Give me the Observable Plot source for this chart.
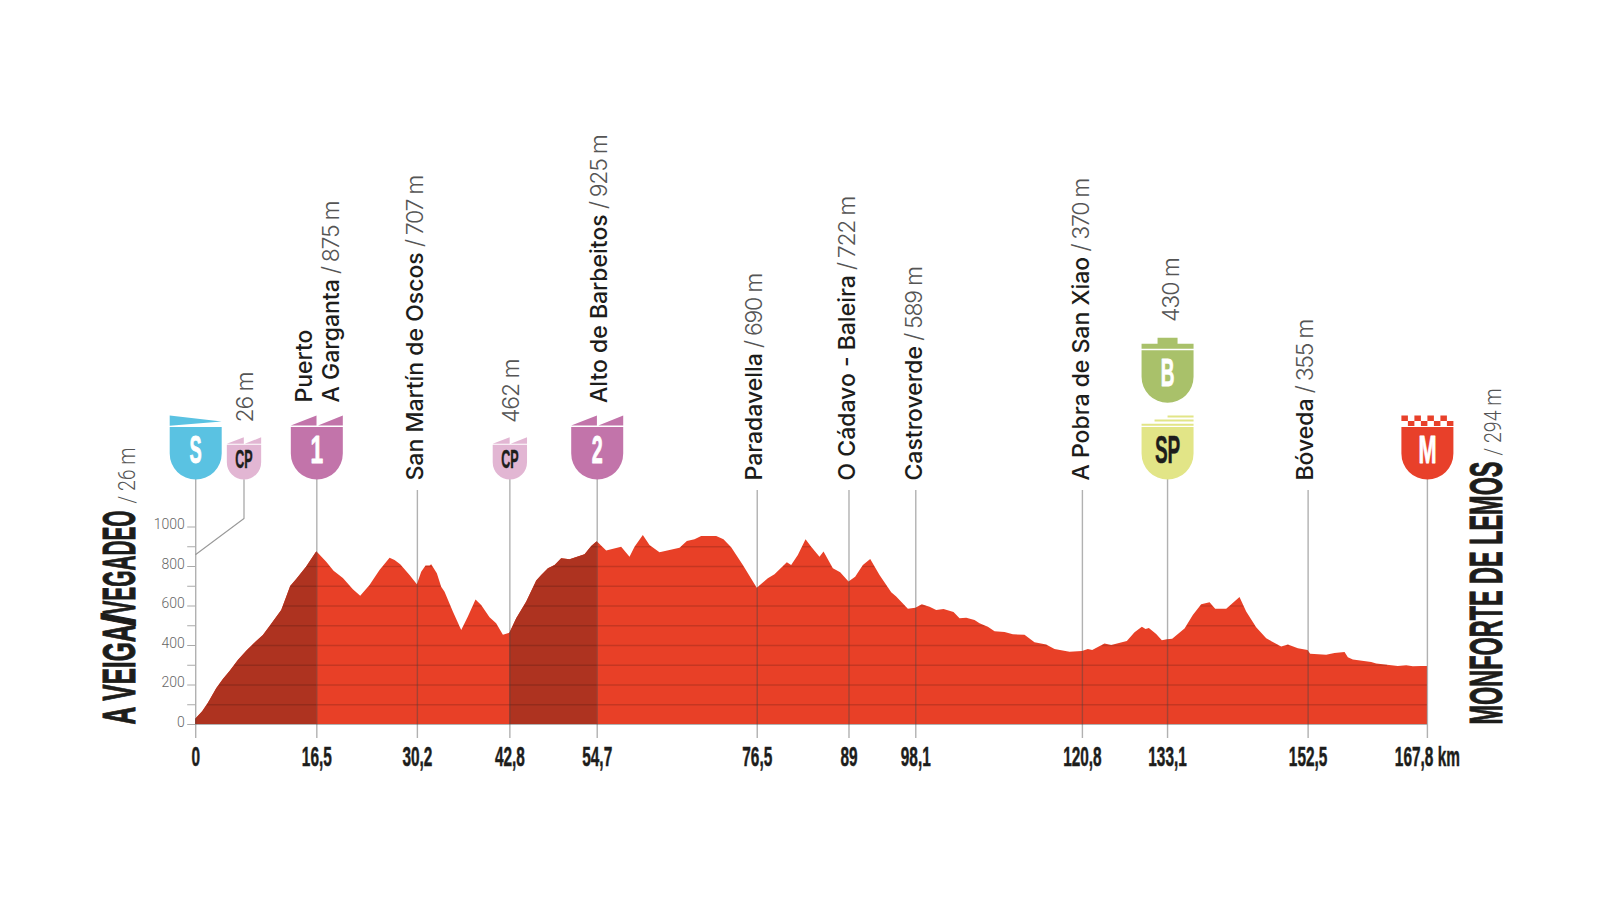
<!DOCTYPE html>
<html><head><meta charset="utf-8">
<script src="https://cdn.jsdelivr.net/npm/d3@7"></script>
<script src="https://cdn.jsdelivr.net/npm/@observablehq/plot@0.6"></script>
<style>html,body{margin:0;padding:0;background:#fff}svg{display:block;overflow:visible}</style>
</head><body><div id="chart"></div>
<script>
// Elevation profile
const profileKm = [0,.95,1.73,2.86,3.77,4.68,5.81,6.95,7.95,9.22,10.13,11.72,12.31,12.94,13.76,15.12,16.5,17.85,18.85,20.12,21.48,22.48,23.75,25.11,26.48,27.16,27.93,29.2,30.2,30.79,31.38,31.93,32.15,32.92,33.51,33.97,35.1,36.24,37.15,38.19,38.96,40.1,41.0,41.92,42.8,43.73,45.1,46.46,47.14,48.05,48.96,49.86,51.0,53.04,53.95,54.7,55.99,58.03,59.17,59.85,60.98,61.89,63.25,65.98,66.98,68.02,68.93,70.98,71.97,73.02,74.61,76.5,78.01,78.92,80.6,81.19,82.1,83.15,83.92,85.05,85.6,86.87,87.87,89,89.91,90.96,91.96,93.23,94.82,95.5,97.09,98.1,98.99,100.04,100.95,101.95,103.31,104.13,105.04,106.17,106.85,107.99,108.9,110.26,111.39,112.98,114.34,115.93,117.07,119.11,120.8,121.61,122.2,123.88,124.79,126.92,127.97,128.97,129.47,129.92,130.92,131.69,132.37,133.1,134.78,135.91,137.05,138.19,138.96,140.46,142.27,143.18,144.54,145.91,147.95,148.86,150.22,151.54,151.9,154.08,155.21,156.58,157.03,157.71,160.21,160.89,163.84,164.98,165.89,167.02,167.8];
const profileM = [26,64,108,181,228,268,324,371,408,451,496,577,636,699,734,797,875,822,776,739,682,650,704,780,842,830,809,755,707,771,802,803,809,763,695,670,569,476,544,631,603,540,510,452,462,535,620,726,755,788,805,839,834,859,901,925,878,898,847,898,957,906,869,893,927,935,952,952,935,895,805,690,738,758,819,805,856,935,898,847,873,788,768,722,746,805,836,755,667,645,584,589,606,594,577,582,567,535,538,527,510,493,469,466,454,452,414,403,380,366,370,380,375,407,400,420,464,493,481,486,456,424,429,432,483,552,606,616,584,584,643,569,490,434,392,402,383,375,356,351,360,365,338,326,314,306,294,297,292,294,294];
// Climbs shaded darker
const climbs = [[0,16.5],[42.8,54.7]];
// Axis
const tickKm = [0,16.5,30.2,42.8,54.7,76.5,89,98.1,120.8,132.4,151.55,167.8];
const tickLabels = ["0","16,5","30,2","42,8","54,7","76,5","89","98,1","120,8","133,1","152,5","167,8 km"];
const elevationTicks = [0,100,200,300,400,500,600,700,800,900,1000];
// Places
const placeKm = [6.58,16.5,16.5,30.2,42.8,54.7,76.5,89,98.1,120.8,132.4,151.55];
const placeText = ["26 m","Puerto","A Garganta / 875 m","San Martín de Oscos / 707 m","462 m","Alto de Barbeitos / 925 m","Paradavella / 690 m","O Cádavo - Baleira / 722 m","Castroverde / 589 m","A Pobra de San Xiao / 370 m","430 m","Bóveda / 355 m"];
const startName = "A VEIGA/VEGADEO", startAlt = "/ 26 m", finishName = "MONFORTE DE LEMOS", finishAlt = "/ 294 m";
// Marker shields
const shieldKm = [0,6.58,16.5,42.8,54.7,132.4,132.4,167.8];
const shieldLetter = ["S","CP","1","CP","2","B","SP","M"];
const shieldKind = ["start","climb","climb","climb","climb","bonus","sprint","finish"];
const shieldColor = ["#5ac2e2","#e2b6d3","#c274aa","#e2b6d3","#c274aa","#a9c16a","#e2e587","#e8402a"];
const shieldInk = ["#fff","#1d1d1b","#fff","#1d1d1b","#fff","#fff","#1d1d1b","#fff"];
// Layout (pixels)
const X0=195.2,X1=1426.9,Y0=724,Y1000=526.5;
const px2m = p => (Y0-p)/((Y0-Y1000)/1000);
const tipY = [479,479,479,479,479,402.3,479,479];
const shieldScale = [1,.66,1,.66,1,1,1,1];
const placeDx = [9,-5.3,22,6,9,9.4,5,6,6.4,7,11,5];
const placeY = [422,402,402,480,422.5,402.5,480,480,480,480,321.5,480];

const profile = profileKm.map((km,i)=>({km,m:profileM[i]}));
// gridline stretches that lie under the profile
const grid = [];
for (const L of elevationTicks.slice(1)) {
  let start=null;
  for (let i=0;i<profile.length-1;i++){
    const a=profile[i],b=profile[i+1];
    const cross=a.km+(L-a.m)/(b.m-a.m)*(b.km-a.km);
    if(a.m<L&&b.m>=L) start=cross;
    if(a.m>=L&&b.m<L&&start!=null){grid.push({L,x1:start,x2:cross});start=null;}
  }
  if(start!=null) grid.push({L,x1:start,x2:167.8});
}
function poly(ctx,pts,s){pts.forEach((p,i)=>i?ctx.lineTo(p[0]*s,p[1]*s):ctx.moveTo(p[0]*s,p[1]*s));ctx.closePath();}
const flags = {
  start:[[[-26,-64],[26,-58],[-26,-53.8]]],
  climb:[[[-26,-54],[-0.3,-64],[-0.3,-54]],[[1.2,-54],[26,-64],[26,-54]]],
  bonus:[[[-26,-54],[-26,-59],[-10,-59],[-10,-65],[10,-65],[10,-59],[26,-59],[26,-54]]],
  sprint:[[[-26,-53.7],[-26,-55.7],[26,-55.7],[26,-53.7]],[[-13,-58],[-13,-60],[26,-60],[26,-58]],[[0,-62],[0,-64],[26,-64],[26,-62]]],
  finish:[-26,-13,0,13].map(x=>[[x,-64],[x+6.5,-64],[x+6.5,-58.5],[x,-58.5]]).concat([-19.5,-6.5,6.5,19.5].map(x=>[[x,-58.5],[x+6.5,-58.5],[x+6.5,-53.5],[x,-53.5]]))
};
function shieldSymbol(kind,s){return {draw(ctx){
  ctx.moveTo(-26*s,-52.5*s);ctx.lineTo(26*s,-52.5*s);ctx.lineTo(26*s,-26*s);
  ctx.arc(0,-26*s,26*s,0,Math.PI);ctx.closePath();
  flags[kind].forEach(p=>poly(ctx,p,s));
}};}
const rulesTall = [0,16.5,42.8,54.7,132.4,167.8];
const rulesShort = [30.2,76.5,89,98.1,120.8,151.55];
const narrow = "'Liberation Sans',Arial,sans-serif";
const sans = "Inter,'Liberation Sans',sans-serif";

const shields = shieldKm.map((km,i)=>Plot.dot([{km,y:px2m(tipY[i])}],{x:"km",y:"y",r:1,fill:shieldColor[i],stroke:"none",symbol:shieldSymbol(shieldKind[i],shieldScale[i])}));
const letters = shieldKm.map((km,i)=>{
  const small=shieldScale[i]<1;
  return Plot.text([shieldLetter[i]],{x:()=>km,y:()=>px2m(tipY[i]),text:d=>d,dy:small?-11.5:-16.5,lineAnchor:"bottom",textAnchor:"middle",fontFamily:narrow,fontWeight:700,fontSize:small?25:38,fill:shieldInk[i],stroke:shieldInk[i],strokeWidth:shieldInk[i]=="#fff"?.9:.5,className:"cond-l"});
});

const chart = Plot.plot({
  width:1600,height:900,
  marginLeft:X0,marginRight:1600-X1,marginTop:Y1000,marginBottom:900-Y0,
  x:{domain:[0,167.8],axis:null},
  y:{domain:[0,1000],axis:null},
  style:{background:"#fff",overflow:"visible"},
  marks:[
    Plot.areaY(profile,{x:"km",y:"m",fill:"#e84027",curve:"linear"}),
    ...climbs.map(([a,b])=>Plot.areaY(profile.filter(d=>d.km>=a&&d.km<=b),{x:"km",y:"m",fill:"#ae3320"})),
    Plot.ruleY(grid,{y:"L",x1:"x1",x2:"x2",stroke:"#000",strokeOpacity:.15,strokeWidth:1.3}),
    Plot.ruleY([0],{stroke:"#000",strokeOpacity:.3,strokeWidth:1}),
    Plot.ruleX(rulesTall,{y1:px2m(738),y2:px2m(479),stroke:"#444",strokeOpacity:.42,strokeWidth:1.4}),
    Plot.ruleX(rulesShort,{y1:px2m(738),y2:px2m(490),stroke:"#444",strokeOpacity:.42,strokeWidth:1.4}),
    Plot.line([{k:6.58,p:479},{k:6.58,p:518},{k:0,p:554}],{x:"k",y:d=>px2m(d.p),stroke:"#999",strokeWidth:1.1}),
    Plot.axisY(elevationTicks,{anchor:"left",label:null,tickSize:8,tickPadding:3,tickFormat:d=>d%200?"":String(d),stroke:"#aaa",fill:"#666",fontSize:14,fontFamily:"Roboto,sans-serif",fontWeight:300}),
    Plot.axisX(tickKm,{anchor:"bottom",label:null,tickSize:0,tickPadding:22,tickFormat:d=>tickLabels[tickKm.indexOf(d)],fill:"#1d1d1b",fontSize:28,fontFamily:narrow,fontWeight:700,className:"cond-t",lineAnchor:"top"}),
    ...shields,...letters,
    Plot.text(placeText,{x:(d,i)=>placeKm[i],y:(d,i)=>px2m(placeY[i]),text:d=>d,rotate:-90,textAnchor:"start",lineAnchor:"bottom",fontFamily:sans,fontSize:23,fontWeight:500,fill:"#1d1d1b",className:"place"}),
    Plot.text([startName],{x:()=>0,y:()=>0,text:d=>d,dx:-61,rotate:-90,textAnchor:"start",lineAnchor:"bottom",fontFamily:narrow,fontWeight:700,fontSize:47,fill:"#1d1d1b",className:"title-s"}),
    Plot.text([startAlt],{x:()=>0,y:()=>px2m(503),text:d=>d,dx:-61,rotate:-90,textAnchor:"start",lineAnchor:"bottom",fontFamily:"Roboto,sans-serif",fontWeight:300,fontSize:23,fill:"#555",className:"alt-s"}),
    Plot.text([finishName],{x:()=>167.8,y:()=>0,text:d=>d,dx:74.9,rotate:-90,textAnchor:"start",lineAnchor:"bottom",fontFamily:narrow,fontWeight:700,fontSize:47,fill:"#1d1d1b",className:"title-f"}),
    Plot.text([finishAlt],{x:()=>167.8,y:()=>px2m(455),text:d=>d,dx:73.1,rotate:-90,textAnchor:"start",lineAnchor:"bottom",fontFamily:"Roboto,sans-serif",fontWeight:300,fontSize:23,fill:"#555",className:"alt-f"})
  ]
});
document.getElementById("chart").append(chart);
const NS="http://www.w3.org/2000/svg";
function fit(t,len){t.setAttribute("textLength",len);t.setAttribute("lengthAdjust","spacingAndGlyphs");}
// y tick labels sit slightly above their ticks
chart.querySelectorAll('[aria-label="y-axis tick label"] text').forEach(t=>t.setAttribute("transform",(t.getAttribute("transform")||"")+" translate(0,-2)"));
// place labels: weight split & per-label offset
chart.querySelectorAll(".place text").forEach((t,i)=>{
  t.setAttribute("transform",`translate(${placeDx[i]},0) `+(t.getAttribute("transform")||""));
  const s=t.textContent, j=s.indexOf(" / ");
  t.textContent="";
  const add=(txt,w,c,ls)=>{const e=document.createElementNS(NS,"tspan");e.textContent=txt;e.setAttribute("font-weight",w);e.setAttribute("fill",c);if(ls)e.setAttribute("letter-spacing",ls);t.append(e);};
  if(j>=0){add(s.slice(0,j),500,"#1d1d1b");add(" "+s.slice(j+1),300,"#555","-1.3");}
  else if(/ m$/.test(s)) add(s,300,"#555","-1.1"); else add(s,500,"#1d1d1b");
});
// condensed display type
chart.querySelectorAll(".cond-t text").forEach(t=>{fit(t,t.getComputedTextLength()*.55);t.setAttribute("stroke","#1d1d1b");t.setAttribute("stroke-width",".5");});
const lw={S:.48,B:.5,M:.57,"1":.6,"2":.52,CP:.5,SP:.5};
chart.querySelectorAll(".cond-l text").forEach(t=>fit(t,t.getComputedTextLength()*lw[t.textContent]));
chart.querySelectorAll(".title-s text").forEach(t=>{
  const parts=[["A VEIGA",100],["/",13],["VEGADEO",104]];
  t.textContent="";
  parts.forEach(([s,len],k)=>{const e=document.createElementNS(NS,"tspan");e.textContent=s;if(k)e.setAttribute("dx","-1.5");fit(e,len);t.append(e);});
  t.setAttribute("stroke","#1d1d1b");t.setAttribute("stroke-width","1");
});
chart.querySelectorAll(".title-f text").forEach(t=>{fit(t,263);t.setAttribute("stroke","#1d1d1b");t.setAttribute("stroke-width","1");});
chart.querySelectorAll(".alt-s text").forEach(t=>fit(t,56));
chart.querySelectorAll(".alt-f text").forEach(t=>fit(t,67));
</script></body></html>
